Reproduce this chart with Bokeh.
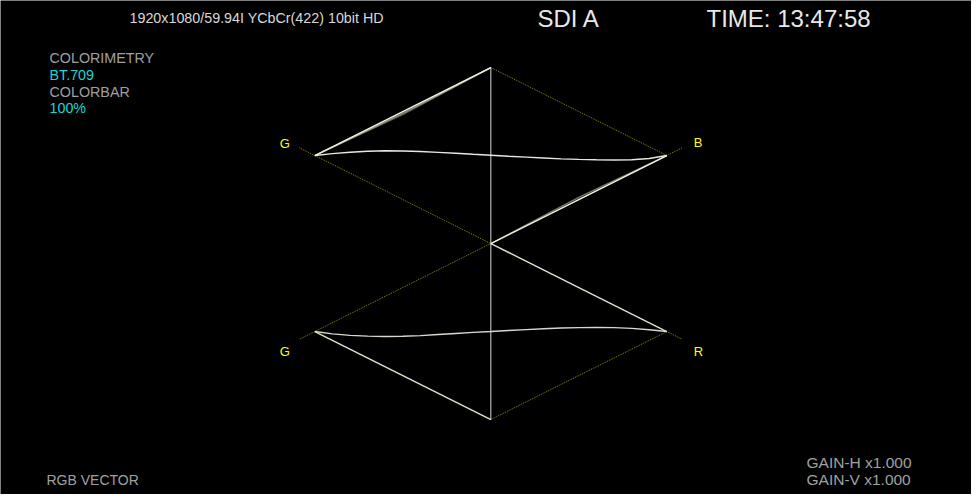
from bokeh.plotting import figure
from bokeh.models import Range1d, Label
from bokeh.embed import file_html
from bokeh.resources import INLINE

# ---- data (vector units: H horizontal, V vertical) ----
vertex_names = ["top", "G1", "B", "center", "G2", "R", "bottom"]
vertex_h = [0.0, -1.0, 1.0, 0.0, -1.0, 1.0, 0.0]
vertex_v = [1.0, 0.5, 0.5, 0.0, -0.5, -0.5, -1.0]

# graticule (dotted) segments
grat_x0 = [0.0, 0.0, -1.088, 1.085, 0.0, 0.0]
grat_y0 = [1.0, -1.0, 0.544, 0.543, 1.0, -1.0]
grat_x1 = [1.0, 1.0, 1.085, -1.088, -1.0, -1.0]
grat_y1 = [0.5, -0.5, -0.543, -0.544, 0.5, -0.5]

# straight transitions (start vertex, mid-point bow, end vertex)
trace_h0 = [0.0, 0.0, 0.0, 1.0, 1.0, -1.0, 0.0]
trace_v0 = [1.0, 1.0, 1.0, 0.5, 0.5, -0.5, 0.0]
trace_bow = [0.0, -0.010, -0.018, 0.0, 0.012, 0.0, 0.0]
trace_h1 = [-1.0, -1.0, -1.0, 0.0, 0.0, 0.0, 1.0]
trace_v1 = [0.5, 0.5, 0.5, 0.0, 0.0, -1.0, -0.5]
trace_alpha = [1.0, 0.55, 0.35, 1.0, 0.5, 0.9, 0.9]

# curved G-B and G-R transitions
curve_h = [-1.0, -0.9, -0.8, -0.7, -0.6, -0.5, -0.4, -0.3, -0.2, -0.1, 0.0,
           0.1, 0.2, 0.3, 0.4, 0.5, 0.6, 0.7, 0.8, 0.9, 1.0]
curve_top_v = [0.500, 0.511, 0.519, 0.524, 0.527, 0.526, 0.523, 0.518, 0.513, 0.507, 0.502,
               0.496, 0.491, 0.486, 0.481, 0.478, 0.476, 0.475, 0.476, 0.483, 0.500]
curve_bot_v = [-0.500, -0.513, -0.522, -0.526, -0.528, -0.527, -0.523, -0.517, -0.511, -0.505, -0.500,
               -0.494, -0.489, -0.484, -0.480, -0.478, -0.477, -0.478, -0.482, -0.490, -0.500]

vertex_labels = ["G", "B", "G", "R"]
vertex_label_h = [-1.0, 1.0, -1.0, 1.0]
vertex_label_v = [0.5, 0.5, -0.5, -0.5]

header_text = "1920x1080/59.94I YCbCr(422) 10bit HD"
input_text = "SDI A"
time_text = "TIME: 13:47:58"
info_lines = ["COLORIMETRY", "BT.709", "COLORBAR", "100%"]
mode_text = "RGB VECTOR"
gain_lines = ["GAIN-H x1.000", "GAIN-V x1.000"]

W, H = 971, 494
FONT = "Liberation Sans"

p = figure(width=W, height=H, output_backend="svg", toolbar_location=None,
           x_range=Range1d(-2.786, 2.731), y_range=Range1d(-1.426, 1.381),
           min_border=0, background_fill_color="black", border_fill_color="black",
           outline_line_color=None)
p.axis.visible = False
p.grid.visible = False

# graticule
p.segment(x0=grat_x0, y0=grat_y0, x1=grat_x1, y1=grat_y1,
          line_color="#8c8c14", line_width=1, line_dash="1 1")

# vertical trace
p.segment(x0=[vertex_h[0]], y0=[vertex_v[0]], x1=[vertex_h[6]], y1=[vertex_v[6]],
          line_color="#d8d8d0", line_width=1)

# straight transitions (drawn as 3-point bowed polylines)
xs, ys = [], []
for h0, v0, b, h1, v1 in zip(trace_h0, trace_v0, trace_bow, trace_h1, trace_v1):
    xs.append([h0, (h0 + h1) / 2, h1])
    ys.append([v0, (v0 + v1) / 2 + b, v1])
p.multi_line(xs=xs, ys=ys, line_color="#f0f0e0", line_width=1.4, line_alpha=trace_alpha)

# curved transitions
p.line(curve_h, curve_top_v, line_color="#e8e8e0", line_width=1.4)
p.line(curve_h, curve_bot_v, line_color="#d8d8d0", line_width=1.4)

# vertex labels
offs = [(-35, 12), (27, 13), (-35, -20), (27, -20)]
for t, h, v, (dx, dy) in zip(vertex_labels, vertex_label_h, vertex_label_v, offs):
    p.add_layout(Label(x=h, y=v, x_offset=dx, y_offset=dy, text=t,
                       text_color="#ffff00", text_font=FONT, text_font_size="13px",
                       text_baseline="middle", text_align="left"))

def slabel(x, y, text, color, size):
    p.add_layout(Label(x=x, y=y, x_units="screen", y_units="screen", text=text,
                       text_color=color, text_font=FONT, text_font_size=size,
                       text_baseline="middle", text_align="left"))

slabel(129, 476.3, header_text, "#d8d8d8", "14.3px")
slabel(537, 476.2, input_text, "#e8e8e8", "24px")
slabel(706, 476.2, time_text, "#e8e8e8", "24px")
info_colors = ["#a0a0a0", "#19d6d6", "#a0a0a0", "#19d6d6"]
for i, (t, c) in enumerate(zip(info_lines, info_colors)):
    slabel(49, 436.5 - i * 16.8, t, c, "14.3px")
slabel(46, 14.5, mode_text, "#a0a0a0", "14px")
slabel(806, 32, gain_lines[0], "#a0a0a0", "15.5px")
slabel(806, 15, gain_lines[1], "#a0a0a0", "15.5px")

open("out.html", "w").write(file_html(p, INLINE))
